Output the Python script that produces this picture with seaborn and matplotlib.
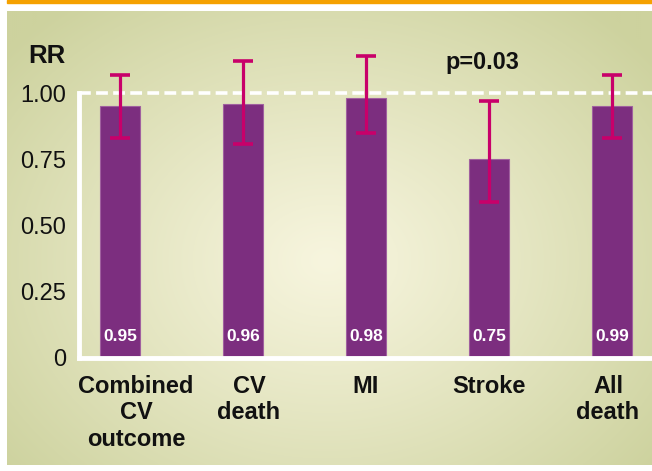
import numpy as np
import pandas as pd
import matplotlib
matplotlib.use("Agg")
import matplotlib.pyplot as plt
import matplotlib.transforms as mtransforms
from matplotlib.patches import Rectangle
import seaborn as sns

# Values
outcomes = ["Combined\nCV\noutcome", "CV\ndeath", "MI", "Stroke", "All\ndeath"]
rr = [0.95, 0.96, 0.98, 0.75, 0.95]
ci_low = [0.83, 0.81, 0.85, 0.59, 0.83]
ci_high = [1.07, 1.12, 1.14, 0.97, 1.07]
value_labels = ["0.95", "0.96", "0.98", "0.75", "0.99"]
y_ticks = [0, 0.25, 0.50, 0.75, 1.00]
y_ticklabels = ["0", "0.25", "0.50", "0.75", "1.00"]

df = pd.DataFrame({"outcome": outcomes, "rr": rr})

sns.set_style("white")
plt.rcParams["font.family"] = ["Liberation Sans", "DejaVu Sans"]
plt.rcParams["lines.scale_dashes"] = False

purple = "#7c2e7f"
magenta = "#c8006a"

W, H = 652, 471
fig = plt.figure(figsize=(W / 100, H / 100), dpi=100)
fig.patch.set_facecolor("white")

# orange strip on top
fig.patches.append(Rectangle((7 / W, 1 - 3 / H), 645 / W, 3 / H,
                             transform=fig.transFigure, color="#f5a100", zorder=0))

# radial gradient background panel
bg = fig.add_axes([7 / W, 6 / H, 645 / W, 454 / H])
gx, gy = np.meshgrid(np.linspace(0, 645, 323), np.linspace(0, 454, 227))
r = np.sqrt(((gx - 320) / 420) ** 2 + ((gy - 250) / 330) ** 2)
t = np.clip(r, 0, 1)[..., None] ** 1.1
centre = np.array([247, 245, 222]) / 255
edge = np.array([205, 210, 158]) / 255
bg.imshow(centre + (edge - centre) * t, aspect="auto", interpolation="bilinear")
bg.axis("off")

# main plot
ax = fig.add_axes([79 / W, (H - 358) / H, (W - 79) / W, 331 / H])
ax.patch.set_alpha(0)
sns.barplot(data=df, x="outcome", y="rr", color=purple, saturation=1,
            width=0.325, errorbar=None, edgecolor="#a0609f", linewidth=0.8, ax=ax)

pos = np.arange(len(outcomes))
rr_a = np.array(rr)
ax.errorbar(pos, rr_a, yerr=[rr_a - np.array(ci_low), np.array(ci_high) - rr_a],
            fmt="none", ecolor=magenta, elinewidth=2.3, capsize=7, capthick=2.6, zorder=4)

ax.axhline(1.0, color="white", lw=2.6, dashes=(8.5, 3.8), zorder=1)

for i, lab in enumerate(value_labels):
    ax.text(i, 0.083, lab, ha="center", va="center", color="white",
            fontsize=12.5, fontweight="bold", zorder=5)

ax.text(2.95, 1.115, "p=0.03", ha="center", va="center", fontsize=16.8,
        fontweight="bold", color="#111111")

ax.set_xlim(-0.333, 4.325)
ax.set_ylim(0, 1.25)
ax.set_yticks(y_ticks)
ax.set_yticklabels(y_ticklabels, fontsize=17, color="#111111")
ax.set_xticks(pos)
ax.set_xticklabels(outcomes, fontsize=17, fontweight="bold", color="#111111",
                   linespacing=1.2)
ax.tick_params(axis="y", direction="in", length=10, width=2, color="white", pad=9.5)
ax.tick_params(axis="x", length=0, pad=12)
ax.set_xlabel("")
ax.set_ylabel("")

# small horizontal nudges of category labels, as in the original artwork
nudges = [16, 6, 0, 0, -4]
for lab, dx in zip(ax.get_xticklabels(), nudges):
    lab.set_transform(lab.get_transform() +
                      mtransforms.ScaledTranslation(dx / 100, 0, fig.dpi_scale_trans))

for s in ["top", "right"]:
    ax.spines[s].set_visible(False)
ax.spines["left"].set_color("white")
ax.spines["left"].set_linewidth(3.5)
ax.spines["left"].set_bounds(0, 1.0)
ax.spines["bottom"].set_color("white")
ax.spines["bottom"].set_linewidth(3.5)

fig.text(66 / W, 1 - 63 / H, "RR", ha="right", va="baseline", fontsize=18.5,
         fontweight="bold", color="#111111")

fig.savefig("out.png", dpi=100)
